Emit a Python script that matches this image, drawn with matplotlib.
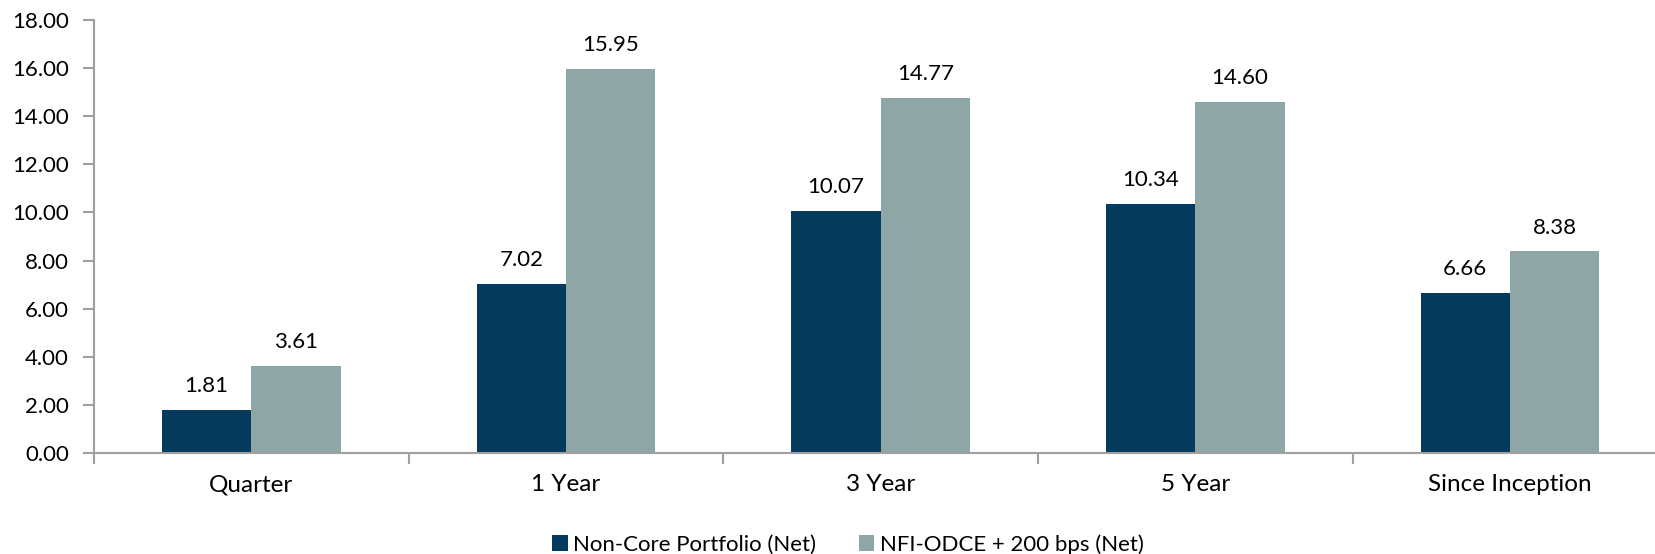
import numpy as np
import matplotlib.pyplot as plt

categories = ["Quarter", "1 Year", "3 Year", "5 Year", "Since Inception"]
non_core = [1.81, 7.02, 10.07, 10.34, 6.66]
odce_200 = [3.61, 15.95, 14.77, 14.60, 8.38]
series_names = ["Non-Core Portfolio (Net)", "NFI-ODCE + 200 bps (Net)"]
colors = ["#043a5c", "#8fa6a6"]

plt.rcParams['font.family'] = ['Lato', 'DejaVu Sans']

fig = plt.figure(figsize=(16.56, 5.54), dpi=100)
# plot area runs a bit past the right edge, like the original
ax = fig.add_axes([0.0568, 0.182, 0.950, 0.782])
ax.spines['bottom'].set_clip_on(False)

x = np.arange(len(categories))
w = 0.284
for i, (vals, name, c) in enumerate(zip([non_core, odce_200], series_names, colors)):
    pos = x + (i - 0.5) * w
    bars = ax.bar(pos, vals, width=w, color=c, label=name)
    for b, v in zip(bars, vals):
        ax.annotate(f"{v:.2f}", (b.get_x() + b.get_width() / 2, v),
                    xytext=(0, 10), textcoords='offset points',
                    ha='center', va='bottom', fontsize=16)

ax.set_xlim(-0.5, len(categories) - 0.5)
ax.set_ylim(0, 18)
ax.set_yticks(np.arange(0, 18.1, 2))
ax.set_yticklabels([f"{t:.2f}" for t in np.arange(0, 18.1, 2)], fontsize=16)

# category boundaries get the tick marks, names sit in between
ax.set_xticks(np.arange(-0.5, len(categories), 1))
ax.set_xticklabels([])
ax.set_xticks(x, minor=True)
ax.set_xticklabels(categories, minor=True, fontsize=17.5)
ax.tick_params(axis='x', which='minor', length=0, pad=15)
ax.tick_params(axis='x', which='major', length=8, color='#a0a0a0', width=1.5)
ax.tick_params(axis='y', length=8, color='#a0a0a0', width=1.5, pad=10)

for s in ['top', 'right']:
    ax.spines[s].set_visible(False)
for s in ['left', 'bottom']:
    ax.spines[s].set_color('#a0a0a0')
    ax.spines[s].set_linewidth(1.5)

fig.legend(loc='center', bbox_to_anchor=(0.512, 0.017), ncol=2, frameon=False,
           fontsize=16, handlelength=0.7, handleheight=0.7, handletextpad=0.25,
           columnspacing=1.9, borderpad=0)

fig.savefig("out.png", dpi=100)
